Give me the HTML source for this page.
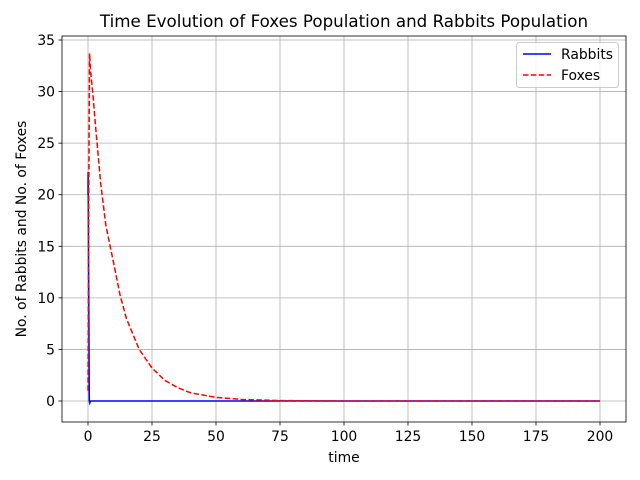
<!DOCTYPE html>
<html><head><meta charset="utf-8"><style>body{margin:0;background:#fff}svg{display:block;font-family:"DejaVu Sans","Liberation Sans",sans-serif}</style></head>
<body>
<svg id="c" width="640" height="480"></svg>
<script>
const xTicks=[0,25,50,75,100,125,150,175,200];
const yTicks=[0,5,10,15,20,25,30,35];
const rabT=[0,0.05,0.3,0.5,0.7,1,200];
const rabV=[20,22.2,10,0,-0.2,0,0];
const foxT=[0,0.3,0.6,1,2,3,5,7,10,12.5,15,20,25,30,35,40,50,60,75,100,200];
const foxV=[1,20,33.7,32,29.5,26.5,21,17,13.4,10.3,8,5,3.2,2,1.3,0.8,0.35,0.15,0.04,0,0];
const L=62,R=626,T=36,B=422;
const xs=v=>88+v*2.56, ys=v=>401-v*10.314;
const s=document.getElementById('c');const NS='http://www.w3.org/2000/svg';
function mk(t,a,txt){const e=document.createElementNS(NS,t);for(const k in a)e.setAttribute(k,a[k]);if(txt!==undefined)e.textContent=txt;s.appendChild(e);return e;}
xTicks.forEach(v=>{const x=xs(v);
const g=mk('line',{x1:x,x2:x,y1:T,y2:B,stroke:'#b0b0b0','stroke-width':0.8});

const k=mk('line',{x1:x,x2:x,y1:B,y2:B+3.5,stroke:'#000','stroke-width':0.8});

const t=mk('text',{x:x,y:B+19,'font-size':13.9,'text-anchor':'middle'},v);
});
yTicks.forEach(v=>{const y=ys(v);
const g=mk('line',{x1:L,x2:R,y1:y,y2:y,stroke:'#b0b0b0','stroke-width':0.8});

const k=mk('line',{x1:L-3.5,x2:L,y1:y,y2:y,stroke:'#000','stroke-width':0.8});

const t=mk('text',{x:L-7,y:y+5,'font-size':13.9,'text-anchor':'end'},v);
});
const rp=mk('polyline',{points:rabT.map((t,i)=>xs(t)+','+ys(rabV[i])).join(' '),fill:'none',stroke:'#0000ff','stroke-width':1.5});

const fp=mk('polyline',{points:foxT.map((t,i)=>xs(t)+','+ys(foxV[i])).join(' '),fill:'none',stroke:'#ff0000','stroke-width':1.5,'stroke-dasharray':'5.5,2.4'});

const fr=mk('rect',{x:L,y:T,width:R-L,height:B-T,fill:'none',stroke:'#000','stroke-width':0.8});

</script>
<svg style="position:absolute;left:0;top:0" width="640" height="480">
<text x="344" y="27" font-size="16.7" text-anchor="middle">Time Evolution of Foxes Population and Rabbits Population</text>
<text x="344" y="462" font-size="13.9" text-anchor="middle">time</text>
<text transform="translate(26,229) rotate(-90)" font-size="13.9" text-anchor="middle">No. of Rabbits and No. of Foxes</text>
<g>
<rect x="516.5" y="42.5" width="102" height="45" rx="3" fill="#fff" fill-opacity="0.8" stroke="#ccc"/>
<line x1="523" x2="551" y1="54" y2="54" stroke="#0000ff" stroke-width="1.5"/>
<text x="561" y="59" font-size="13.9">Rabbits</text>
<line x1="523" x2="551" y1="75" y2="75" stroke="#ff0000" stroke-width="1.5" stroke-dasharray="5.5,2.4"/>
<text x="561" y="80" font-size="13.9">Foxes</text>
</g>
</svg>
</body></html>
